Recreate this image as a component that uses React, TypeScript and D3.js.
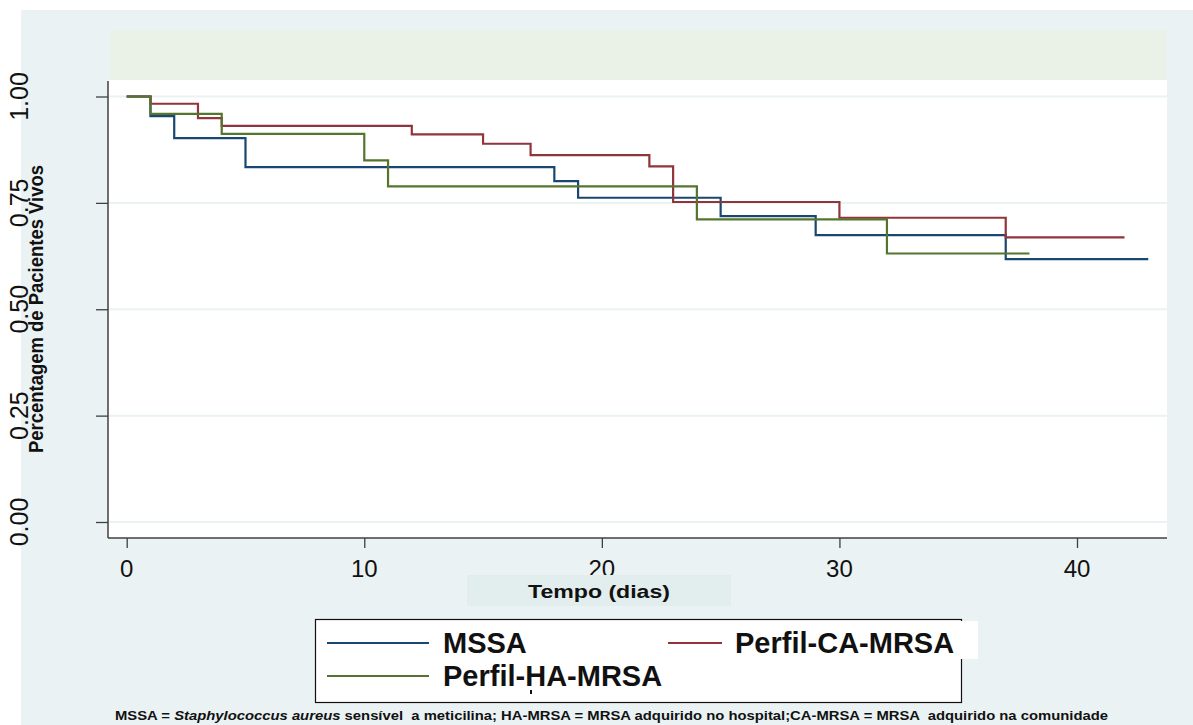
import React, { useEffect, useRef } from 'react';
import * as d3 from 'd3';

// Kaplan-Meier estimates
const mssaTimes = [0, 1, 2, 5, 18, 19, 25, 29, 37, 43];
const mssaSurv = [1.0, 0.954, 0.902, 0.834, 0.801, 0.762, 0.719, 0.674, 0.618, 0.618];

const caTimes = [0, 1, 3, 4, 12, 15, 17, 22, 23, 30, 37, 42];
const caSurv = [1.0, 0.983, 0.949, 0.931, 0.911, 0.889, 0.862, 0.836, 0.752, 0.715, 0.669, 0.669];

const haTimes = [0, 1, 4, 10, 11, 24, 32, 38];
const haSurv = [1.0, 0.959, 0.912, 0.85, 0.789, 0.711, 0.631, 0.631];

const yTicks = [0, 0.25, 0.5, 0.75, 1];
const xTicks = [0, 10, 20, 30, 40];

const seriesNames = ['MSSA', 'Perfil-CA-MRSA', 'Perfil-HA-MRSA'];
const seriesColors = ['#1a476f', '#90353b', '#55752f'];

const FONT = '"Liberation Sans", Arial, sans-serif';

export default function App() {
  const svgRef = useRef<SVGSVGElement | null>(null);

  useEffect(() => {
    const svg = d3.select(svgRef.current);
    svg.selectAll('*').remove();

    const W = 1193, H = 725;
    const plot = { left: 108, right: 1167, top: 80, bottom: 538 };

    const x = d3.scaleLinear().domain([0, 40]).range([126.7, 1077]);
    const y = d3.scaleLinear().domain([0, 1]).range([522, 96.5]);

    // backgrounds
    svg.append('rect').attr('width', W).attr('height', H).attr('fill', '#ffffff');
    svg.append('rect').attr('x', 21).attr('y', 10).attr('width', W - 21).attr('height', H - 10).attr('fill', '#eaf2f3');
    svg.append('rect').attr('x', 110).attr('y', 30).attr('width', 1056).attr('height', 50).attr('fill', '#eaf2e7');
    svg.append('rect').attr('x', plot.left).attr('y', plot.top)
      .attr('width', plot.right - plot.left).attr('height', plot.bottom - plot.top).attr('fill', '#ffffff');

    // grid
    svg.append('g').selectAll('line').data(yTicks).enter().append('line')
      .attr('x1', plot.left).attr('x2', plot.right)
      .attr('y1', d => y(d)).attr('y2', d => y(d))
      .attr('stroke', '#eaf2f3').attr('stroke-width', 2);

    // axes
    const yAxis = d3.axisLeft(y).tickValues(yTicks).tickSize(12).tickSizeOuter(0).tickFormat(() => '');
    const gy = svg.append('g').attr('transform', 'translate(' + plot.left + ',0)').call(yAxis);
    gy.select('.domain').remove();
    gy.selectAll('line').attr('stroke', '#404040').attr('stroke-width', 1.3);

    const xAxis = d3.axisBottom(x).tickValues(xTicks).tickSize(10).tickSizeOuter(0).tickFormat(() => '');
    const gx = svg.append('g').attr('transform', 'translate(0,' + plot.bottom + ')').call(xAxis);
    gx.select('.domain').remove();
    gx.selectAll('line').attr('stroke', '#404040').attr('stroke-width', 1.3);

    svg.append('line').attr('x1', plot.left).attr('x2', plot.left).attr('y1', 81).attr('y2', plot.bottom)
      .attr('stroke', '#404040').attr('stroke-width', 1.5);
    svg.append('line').attr('x1', plot.left).attr('x2', plot.right).attr('y1', plot.bottom).attr('y2', plot.bottom)
      .attr('stroke', '#404040').attr('stroke-width', 1.5);

    // tick labels
    svg.append('g').selectAll('text').data(yTicks).enter().append('text')
      .attr('transform', d => 'translate(28,' + y(d) + ') rotate(-90)')
      .attr('text-anchor', 'middle')
      .attr('font-family', FONT).attr('font-size', 25).attr('fill', '#111')
      .text(d => d3.format('.2f')(d));

    svg.append('g').selectAll('text').data(xTicks).enter().append('text')
      .attr('x', d => x(d)).attr('y', 577)
      .attr('text-anchor', 'middle')
      .attr('font-family', FONT).attr('font-size', 24).attr('fill', '#111')
      .text(d => d);

    // axis titles
    svg.append('text')
      .attr('transform', 'translate(43,309) rotate(-90)')
      .attr('text-anchor', 'middle')
      .attr('font-family', FONT).attr('font-size', 21).attr('font-weight', 'bold').attr('fill', '#111')
      .attr('textLength', 288).attr('lengthAdjust', 'spacingAndGlyphs')
      .text('Percentagem de Pacientes Vivos');

    svg.append('rect').attr('x', 467).attr('y', 575).attr('width', 264).attr('height', 31).attr('fill', '#e2eded');
    svg.append('text')
      .attr('x', 599).attr('y', 598)
      .attr('text-anchor', 'middle')
      .attr('font-family', FONT).attr('font-size', 19).attr('font-weight', 'bold').attr('fill', '#111')
      .attr('textLength', 142).attr('lengthAdjust', 'spacingAndGlyphs')
      .text('Tempo (dias)');

    // survival curves
    const line = d3.line<[number, number]>()
      .x(d => x(d[0]))
      .y(d => y(d[1]))
      .curve(d3.curveStepAfter);

    const series = [
      d3.zip(mssaTimes, mssaSurv),
      d3.zip(caTimes, caSurv),
      d3.zip(haTimes, haSurv),
    ];
    series.forEach((s, i) => {
      svg.append('path')
        .attr('d', line(s as [number, number][]))
        .attr('fill', 'none')
        .attr('stroke', seriesColors[i])
        .attr('stroke-width', 2.2);
    });

    // legend
    const lg = svg.append('g');
    lg.append('rect').attr('x', 315.5).attr('y', 619.5).attr('width', 646).attr('height', 83)
      .attr('fill', '#ffffff').attr('stroke', '#111').attr('stroke-width', 1.2);
    lg.append('rect').attr('x', 930).attr('y', 621).attr('width', 48).attr('height', 38).attr('fill', '#ffffff');

    const legendItems = [
      { x1: 327, x2: 429, y: 643, tx: 443, ty: 653 },
      { x1: 668, x2: 722, y: 643, tx: 735, ty: 653 },
      { x1: 327, x2: 429, y: 676, tx: 443, ty: 686 },
    ];
    legendItems.forEach((it, i) => {
      lg.append('line').attr('x1', it.x1).attr('x2', it.x2).attr('y1', it.y).attr('y2', it.y)
        .attr('stroke', seriesColors[i]).attr('stroke-width', 2.2);
      lg.append('text').attr('x', it.tx).attr('y', it.ty)
        .attr('font-family', FONT).attr('font-size', 29).attr('font-weight', 'bold').attr('fill', '#111')
        .text(seriesNames[i]);
    });
    lg.append('rect').attr('x', 530).attr('y', 690).attr('width', 2).attr('height', 4).attr('fill', '#111');

    // footnote
    const note = svg.append('text')
      .attr('x', 115).attr('y', 720)
      .attr('font-family', FONT).attr('font-size', 12).attr('font-weight', 'bold').attr('fill', '#111')
      .attr('textLength', 993).attr('lengthAdjust', 'spacingAndGlyphs')
      .attr('xml:space', 'preserve');
    note.append('tspan').text('MSSA = ');
    note.append('tspan').attr('font-style', 'italic').text('Staphylococcus aureus');
    note.append('tspan').text(' sensível  a meticilina; HA-MRSA = MRSA adquirido no hospital;CA-MRSA = MRSA  adquirido na comunidade');
  }, []);

  return (
    <svg
      ref={svgRef}
      width={1193}
      height={725}
      style={{ position: 'absolute', left: 0, top: 0, display: 'block' }}
    />
  );
}
